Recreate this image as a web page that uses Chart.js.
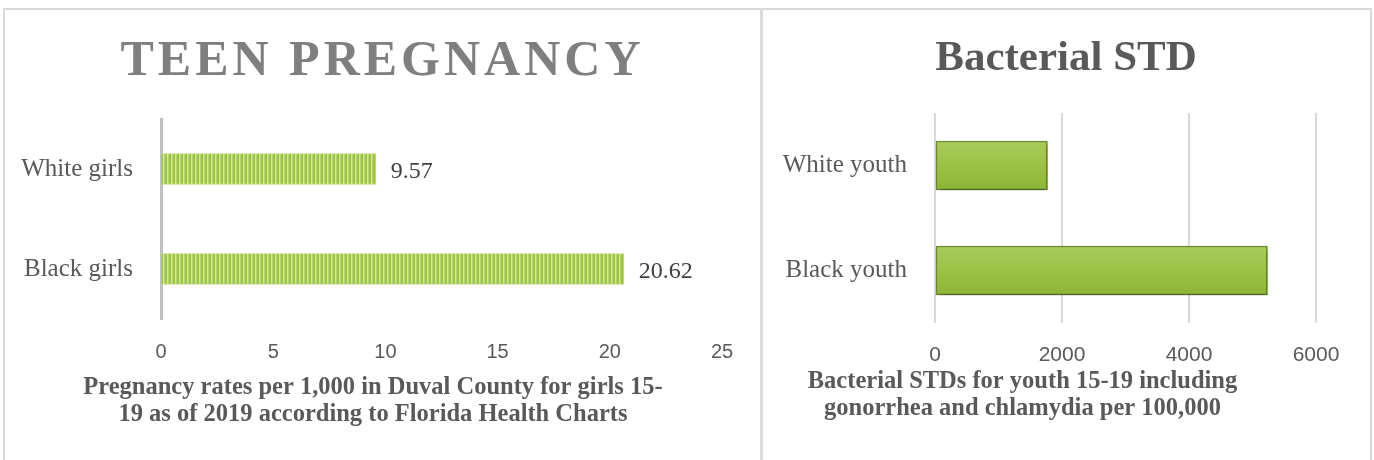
<!DOCTYPE html>
<html>
<head>
<meta charset="utf-8">
<script src="https://cdn.jsdelivr.net/npm/chart.js@4.4.1/dist/chart.umd.min.js"></script>
<style>
  html, body { margin: 0; padding: 0; background: #fff; }
  body { width: 1374px; height: 460px; position: relative; overflow: hidden; }
  #frame { position: absolute; left: 3px; top: 8px; width: 1365px; height: 460px;
           border: 2px solid #dadada; border-bottom: none; }
  #divider { position: absolute; left: 760px; top: 8px; width: 3px; height: 452px; background: #dadada; }
  .panel { position: absolute; top: 10px; height: 450px; }
  #left { left: 5px; width: 755px; }
  #right { left: 763px; width: 607px; }
</style>
</head>
<body>
<div id="frame"></div>
<div id="divider"></div>
<div class="panel" id="left"><canvas id="pregChart"></canvas></div>
<div class="panel" id="right"><canvas id="stdChart"></canvas></div>

<script>
// data
const pregCategories = ['White girls', 'Black girls'];
const pregRates = [9.57, 20.62];
const pregTicks = [0, 5, 10, 15, 20, 25];

const stdCategories = ['White youth', 'Black youth'];
const stdRates = [1770, 5235];
const stdTicks = [0, 2000, 4000, 6000];

const serif = '"Liberation Serif", "Times New Roman", serif';
const sans = '"Liberation Sans", Arial, sans-serif';

// draws titles / axis captions as canvas text
const panelText = {
  id: 'panelText',
  afterDraw(chart, args, opts) {
    const ctx = chart.ctx;
    (opts.items || []).forEach(item => {
      ctx.save();
      ctx.font = item.font;
      ctx.fillStyle = item.color;
      ctx.textAlign = 'center';
      ctx.textBaseline = 'alphabetic';
      if (item.spacing) ctx.letterSpacing = item.spacing + 'px';
      ctx.fillText(item.text, item.x + (item.spacing || 0) / 2, item.y);
      ctx.restore();
    });
  }
};

// value labels to the right of the bars
const valueLabels = {
  id: 'valueLabels',
  afterDatasetsDraw(chart, args, opts) {
    if (!opts.show) return;
    const ctx = chart.ctx;
    const meta = chart.getDatasetMeta(0);
    ctx.save();
    ctx.font = '24px ' + serif;
    ctx.fillStyle = '#404040';
    ctx.textAlign = 'left';
    ctx.textBaseline = 'alphabetic';
    meta.data.forEach((bar, i) => {
      ctx.fillText(chart.data.datasets[0].data[i].toFixed(2), bar.x + 15, bar.y + 9);
    });
    ctx.restore();
  }
};

// soft shadow under the bars
const barShadow = {
  id: 'barShadow',
  beforeDatasetsDraw(chart, args, opts) {
    if (!opts.show) return;
    const ctx = chart.ctx;
    ctx.save();
    ctx.shadowColor = 'rgba(0,0,0,0.35)';
    ctx.shadowBlur = 5;
    ctx.shadowOffsetX = 2;
    ctx.shadowOffsetY = 3;
  },
  afterDatasetsDraw(chart, args, opts) {
    if (!opts.show) return;
    chart.ctx.restore();
  }
};

// vertical stripe pattern for teen pregnancy bars
function stripePattern() {
  const c = document.createElement('canvas');
  c.width = 4; c.height = 4;
  const g = c.getContext('2d');
  const cols = ['#9bc53d', '#9bc53d', '#d3e6a3', '#b7d673'];
  cols.forEach((col, i) => { g.fillStyle = col; g.fillRect(i, 0, 1, 4); });
  return g.createPattern(c, 'repeat');
}

new Chart(document.getElementById('pregChart'), {
  type: 'bar',
  data: {
    labels: pregCategories,
    datasets: [{
      data: pregRates,
      backgroundColor: stripePattern(),
      borderColor: '#b9d774',
      borderWidth: 1,
      borderSkipped: false,
      barThickness: 31
    }]
  },
  options: {
    indexAxis: 'y',
    responsive: true,
    maintainAspectRatio: false,
    animation: false,
    layout: { padding: { top: 109, right: 38, bottom: 0, left: 0 } },
    scales: {
      x: {
        min: pregTicks[0],
        max: pregTicks[pregTicks.length - 1],
        ticks: { stepSize: 5, padding: 21, color: '#595959', font: { family: sans, size: 20 } },
        grid: { display: false, drawTicks: false },
        border: { display: false },
        afterFit: s => { s.height = 141; }
      },
      y: {
        ticks: { padding: 28, color: '#595959', font: { family: serif, size: 25 } },
        grid: { display: false, drawTicks: false },
        border: { display: true, color: '#c0c0c0', width: 3 },
        afterFit: s => { s.width = 156; }
      }
    },
    plugins: {
      legend: { display: false },
      tooltip: { enabled: false },
      valueLabels: { show: true },
      panelText: {
        items: [
          { text: 'TEEN PREGNANCY', x: 375.5, y: 65, font: 'bold 50px ' + serif, color: '#7f7f7f', spacing: 4 },
          { text: 'Pregnancy rates per 1,000 in Duval County for girls 15-', x: 368, y: 384, font: 'bold 24.5px ' + serif, color: '#595959' },
          { text: '19 as of 2019 according to Florida Health Charts', x: 368, y: 411, font: 'bold 24.5px ' + serif, color: '#595959' }
        ]
      }
    }
  },
  plugins: [panelText, valueLabels]
});

new Chart(document.getElementById('stdChart'), {
  type: 'bar',
  data: {
    labels: stdCategories,
    datasets: [{
      data: stdRates,
      backgroundColor: c => {
        const yScale = c.chart.scales.y;
        const cy = yScale ? yScale.getPixelForValue(c.dataIndex) : NaN;
        if (!isFinite(cy)) return '#9bbf45';
        const g = c.chart.ctx.createLinearGradient(0, cy - 25, 0, cy + 25);
        g.addColorStop(0, '#a8cb5c');
        g.addColorStop(0.5, '#9cc245');
        g.addColorStop(1, '#8bb534');
        return g;
      },
      borderColor: '#6f8f2f',
      borderWidth: 1.5,
      borderSkipped: false,
      barThickness: 49
    }]
  },
  options: {
    indexAxis: 'y',
    responsive: true,
    maintainAspectRatio: false,
    animation: false,
    layout: { padding: { top: 103, right: 54, bottom: 0, left: 0 } },
    scales: {
      x: {
        min: stdTicks[0],
        max: stdTicks[stdTicks.length - 1],
        ticks: {
          stepSize: 2000, padding: 20, color: '#595959', font: { family: sans, size: 21 },
          callback: v => String(v)
        },
        grid: { color: '#d9d9d9', lineWidth: 2, drawTicks: false },
        border: { display: false },
        afterFit: s => { s.height = 137; }
      },
      y: {
        ticks: { padding: 28, color: '#595959', font: { family: serif, size: 25 } },
        grid: { display: false, drawTicks: false },
        border: { display: false },
        afterFit: s => { s.width = 172; }
      }
    },
    plugins: {
      legend: { display: false },
      tooltip: { enabled: false },
      barShadow: { show: true },
      panelText: {
        items: [
          { text: 'Bacterial STD', x: 303, y: 60, font: 'bold 43px ' + serif, color: '#595959' },
          { text: 'Bacterial STDs for youth 15-19 including', x: 259.5, y: 377.7, font: 'bold 24.5px ' + serif, color: '#595959' },
          { text: 'gonorrhea and chlamydia per 100,000', x: 259.5, y: 405, font: 'bold 24.5px ' + serif, color: '#595959' }
        ]
      }
    }
  },
  plugins: [barShadow, panelText]
});
</script>
</body>
</html>
